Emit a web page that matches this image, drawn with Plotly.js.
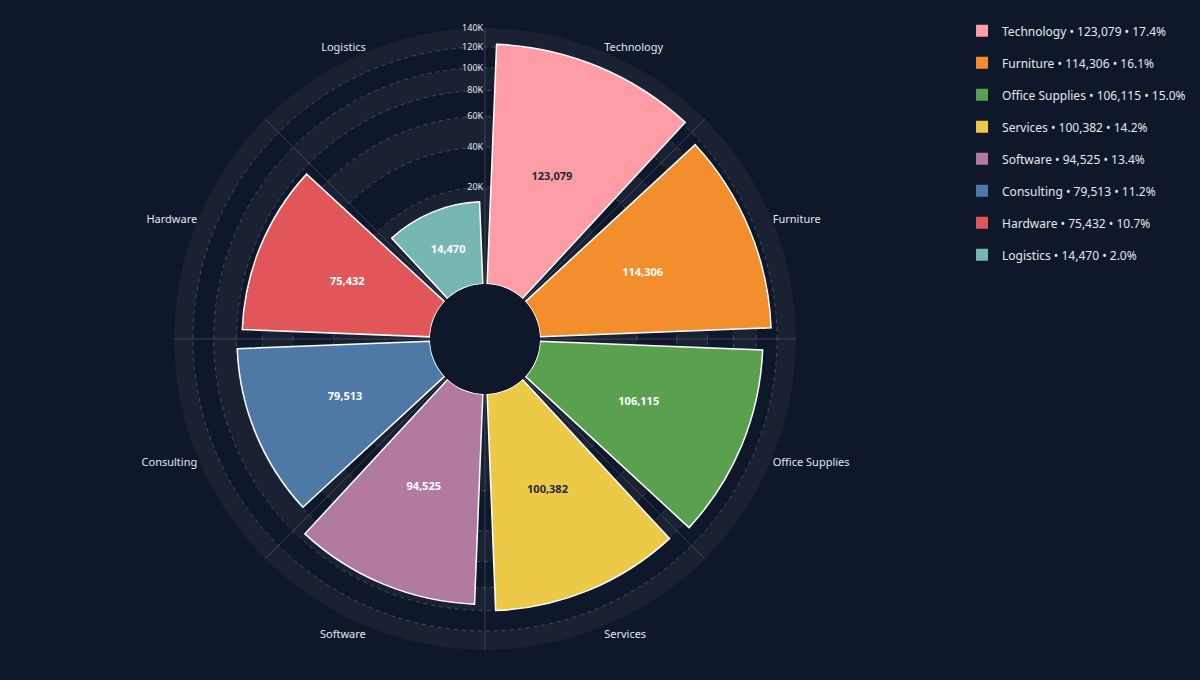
<!DOCTYPE html>
<html>
<head>
<meta charset="utf-8">
<script src="https://cdn.plot.ly/plotly-3.0.1.min.js"></script>
<style>
  html, body { margin: 0; padding: 0; background: #0f172a; }
  #chart { width: 1200px; height: 680px; }
</style>
</head>
<body>
<div id="chart"></div>
<script>
// categories go clockwise starting just right of north
var categories = ['Technology', 'Furniture', 'Office Supplies', 'Services', 'Software', 'Consulting', 'Hardware', 'Logistics'];
var revenue = [123079, 114306, 106115, 100382, 94525, 79513, 75432, 14470];
var colors = ['#ff9da7', '#f28e2b', '#59a14f', '#edc948', '#b07aa1', '#4e79a7', '#e15759', '#76b7b2'];

// radial ticks (the bars use a square-root scale)
var tickValues = [20000, 40000, 60000, 80000, 100000, 120000, 140000];
var tickLabels = ['20K', '40K', '60K', '80K', '100K', '120K', '140K'];

var FONT = '"Noto Sans", "Open Sans", sans-serif';
var BG = '#0f172a';

function fmt(v) {
    return v.toLocaleString('en-US');
}

// dark text on light bars, white on the rest
function labelColor(hex) {
    var r = parseInt(hex.substr(1, 2), 16);
    var g = parseInt(hex.substr(3, 2), 16);
    var b = parseInt(hex.substr(5, 2), 16);
    var lum = 0.299 * r + 0.587 * g + 0.114 * b;
    return lum > 175 ? '#1e293b' : '#ffffff';
}

var total = 0;
for (var i = 0; i < revenue.length; i++) {
    total += revenue[i];
}

var rMax = Math.sqrt(tickValues[tickValues.length - 1]);
var barR = revenue.map(function (v) { return Math.sqrt(v); });

var data = [];

// alternating ring bands behind everything
var bandEdges = [0].concat(tickValues);
var bandBase = [], bandR = [], bandTheta = [];
for (var i = 0; i < bandEdges.length - 1; i += 2) {
    var lo = Math.sqrt(bandEdges[i]);
    var hi = Math.sqrt(bandEdges[i + 1]);
    [90, 270].forEach(function (t) {
        bandTheta.push(t);
        bandBase.push(lo);
        bandR.push(hi - lo);
    });
}
data.push({
    type: 'barpolar',
    subplot: 'polar',
    theta: bandTheta,
    r: bandR,
    base: bandBase,
    width: 180,
    marker: { color: 'rgba(255,255,255,0.045)', line: { width: 0 } },
    showlegend: false,
    hoverinfo: 'skip'
});

// one trace per category so each gets a legend entry
for (var i = 0; i < categories.length; i++) {
    var pct = (revenue[i] / total * 100).toFixed(1);
    data.push({
        type: 'barpolar',
        subplot: 'polar2',
        name: categories[i] + ' \u2022 ' + fmt(revenue[i]) + ' \u2022 ' + pct + '%',
        legendgroup: categories[i],
        theta: [categories[i]],
        r: [barR[i]],
        width: [0.9],
        marker: { color: colors[i], line: { width: 0 } },
        hovertemplate: categories[i] + ': ' + fmt(revenue[i]) + '<extra></extra>'
    });
}

// white outlines on top (kept apart so the legend swatches stay plain)
data.push({
    type: 'barpolar',
    subplot: 'polar2',
    theta: categories,
    r: barR,
    width: 0.9,
    marker: { color: 'rgba(0,0,0,0)', line: { color: '#ffffff', width: 1.5 } },
    showlegend: false,
    hoverinfo: 'skip'
});

// value labels halfway up each bar
data.push({
    type: 'scatterpolar',
    subplot: 'polar2',
    mode: 'text',
    theta: categories,
    r: barR.map(function (r) { return r / 2; }),
    text: revenue.map(fmt),
    textfont: { family: FONT, size: 11, weight: 700, color: colors.map(labelColor) },
    showlegend: false,
    hoverinfo: 'skip'
});

var domain = { x: [0.145, 0.6633], y: [0.0441, 0.9588] };
var hole = 0.177;

var layout = {
    width: 1200,
    height: 680,
    paper_bgcolor: BG,
    plot_bgcolor: BG,
    margin: { l: 0, r: 0, t: 0, b: 0 },
    font: { family: FONT, color: '#e2e8f0', size: 11 },
    showlegend: true,
    legend: {
        x: 0.8017,
        y: 0.976,
        xanchor: 'left',
        yanchor: 'top',
        traceorder: 'grouped',
        tracegroupgap: 13,
        font: { family: FONT, size: 12, color: '#e5e7eb' },
        bgcolor: 'rgba(0,0,0,0)'
    },
    polar: {
        domain: domain,
        hole: hole,
        bgcolor: 'rgba(0,0,0,0)',
        angularaxis: {
            type: 'linear',
            rotation: 90,
            direction: 'clockwise',
            dtick: 45,
            showticklabels: false,
            ticks: '',
            showline: false,
            showgrid: true,
            gridcolor: 'rgba(255,255,255,0.17)',
            gridwidth: 1
        },
        radialaxis: {
            visible: false,
            range: [0, rMax]
        }
    },
    polar2: {
        domain: domain,
        hole: hole,
        bgcolor: 'rgba(0,0,0,0)',
        barmode: 'overlay',
        angularaxis: {
            type: 'category',
            categoryorder: 'array',
            categoryarray: categories,
            rotation: 67.5,
            direction: 'clockwise',
            showgrid: false,
            showline: false,
            ticks: '',
            tickfont: { family: FONT, size: 11, color: '#e2e8f0' }
        },
        radialaxis: {
            range: [0, rMax],
            angle: 90,
            side: 'counterclockwise',
            tickangle: 90,
            tickvals: tickValues.map(Math.sqrt),
            ticktext: tickLabels,
            showline: false,
            ticks: '',
            tickfont: { family: FONT, size: 9, color: '#e2e8f0' },
            gridcolor: 'rgba(255,255,255,0.2)',
            griddash: '4px,4px',
            gridwidth: 1
        }
    }
};

Plotly.newPlot('chart', data, layout, { displayModeBar: false });
</script>
</body>
</html>
